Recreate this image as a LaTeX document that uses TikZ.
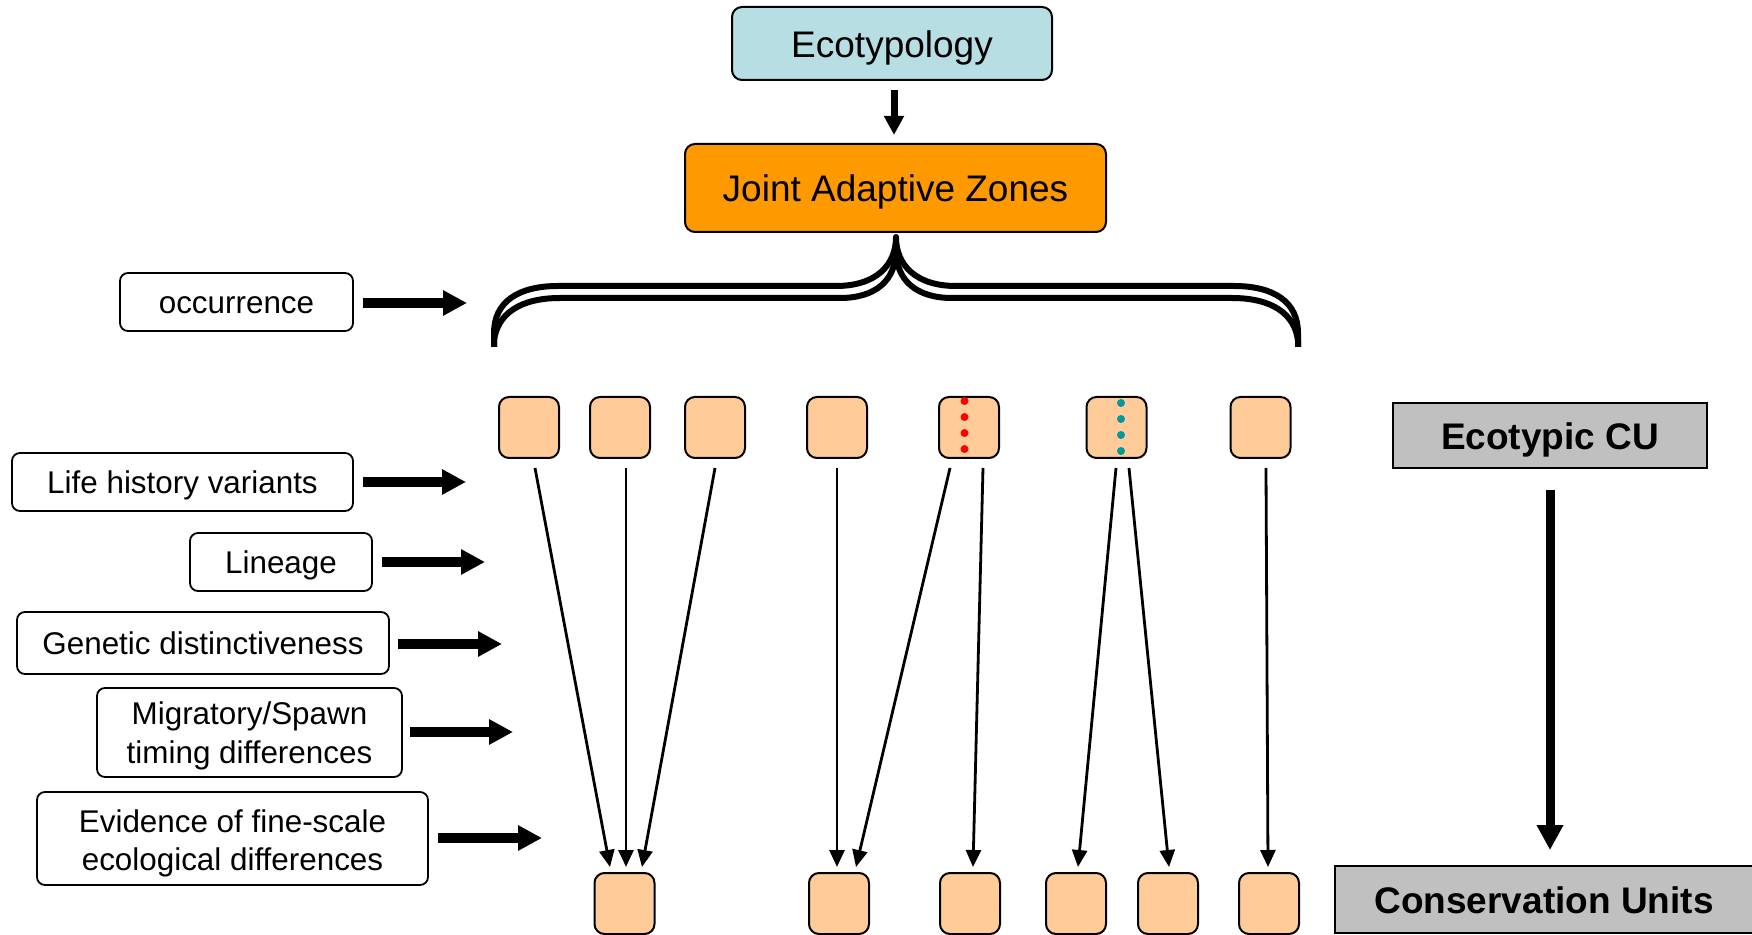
\documentclass[tikz,border=0pt]{standalone}
\usepackage{fontspec}
\setmainfont{Liberation Sans}
\usetikzlibrary{arrows.meta,calc}
\definecolor{ecoblue}{RGB}{183,222,226}
\definecolor{jazorange}{RGB}{255,153,0}
\definecolor{peach}{RGB}{255,204,153}
\definecolor{cugray}{RGB}{192,192,192}
\definecolor{dotteal}{RGB}{0,153,153}
\begin{document}
\begin{tikzpicture}[x=0.5pt,y=-0.5pt,
  bigfont/.style={font=\fontsize{18.5}{22}\selectfont, text height=17.6pt, text depth=3.7pt},
  topbox/.style={draw=black, line width=1pt, rounded corners=5pt, inner sep=0pt, bigfont},
  lbl/.style={draw=black, line width=0.9pt, rounded corners=4pt, fill=white, inner sep=0pt, align=center, font=\fontsize{15.7}{19.3}\selectfont},
  onel/.style={lbl, text height=14.9pt, text depth=3.1pt},
  graybox/.style={draw=black, line width=0.9pt, fill=cugray, inner sep=0pt, font=\fontsize{18.5}{22}\selectfont\bfseries, text height=17.6pt, text depth=3.7pt},
  cubox/.style={draw=black, line width=1pt, rounded corners=5pt, fill=peach, minimum width=30pt, minimum height=30.5pt, inner sep=0pt},
  conn/.style={line width=1.4pt, -{Triangle[width=7.5pt,length=8.5pt]}},
  fat/.style={line width=5pt, -{Triangle[width=12pt,length=12pt]}},
  brace/.style={line width=3pt, line join=round},
  reddot/.style={fill=red, draw=none},
  tealdot/.style={fill=dotteal, draw=none}
]
\useasboundingbox (0,0) rectangle (1752,935);

% top boxes
\node[topbox, fill=ecoblue, minimum width=160pt, minimum height=36.5pt] (eco) at (892,43.5) {Ecotypology};
\node[topbox, fill=jazorange, minimum width=210.5pt, minimum height=44pt] (jaz) at (895.5,188) {Joint Adaptive Zones};
\draw[line width=3.5pt, -{Triangle[width=9.5pt,length=9.5pt]}] ($(eco.south)+(2,9)$) -- ($(jaz.north)+(-1.5,-8)$);

% brace (two parallel curves)
\draw[brace] (494,347) -- (494,333) .. controls (494,302) and (518,286) .. (558,286) -- (836,286)
  .. controls (875,286) and (896,266) .. (896,237)
  .. controls (896,266) and (917,286) .. (956,286) -- (1234,286)
  .. controls (1274,286) and (1298,302) .. (1298,333) -- (1298,347);
\draw[brace] (494,347) -- (494,341) .. controls (497,314) and (520,298) .. (560,298) -- (840,298)
  .. controls (876,298) and (896,280) .. (896,250)
  .. controls (896,280) and (916,298) .. (952,298) -- (1232,298)
  .. controls (1272,298) and (1295,314) .. (1298,341) -- (1298,347);

% left labels
\node[onel, minimum width=116.5pt, minimum height=29pt] (occ) at (236.5,302) {occurrence};
\node[onel, minimum width=170.5pt, minimum height=29pt] (life) at (182.5,482) {Life history variants};
\node[onel, minimum width=91pt, minimum height=29pt] (lin) at (281,562) {Lineage};
\node[onel, minimum width=186pt, minimum height=31pt] (gen) at (203,643) {Genetic distinctiveness};
\node[lbl, minimum width=152.5pt, minimum height=44.5pt] (mig) at (249.5,732.5) {\rule{0pt}{14.5pt}Migratory/Spawn\\timing differences};
\node[lbl, minimum width=195.5pt, minimum height=46.5pt] (evi) at (232.5,838.5) {\rule{0pt}{16.3pt}Evidence of fine-scale\\ecological differences};

\coordinate (occT) at (467,303);
\coordinate (lifeT) at (466,482);
\coordinate (linT) at (485,562);
\coordinate (genT) at (502,644);
\coordinate (migT) at (513,732);
\coordinate (eviT) at (542,838);
\draw[fat] ($(occ.east)+(9,1)$) -- (occT);
\draw[fat] ($(life.east)+(9,0)$) -- (lifeT);
\draw[fat] ($(lin.east)+(9,0)$) -- (linT);
\draw[fat] ($(gen.east)+(8,1)$) -- (genT);
\draw[fat] ($(mig.east)+(7,-0.5)$) -- (migT);
\draw[fat] ($(evi.east)+(9,-0.5)$) -- (eviT);

% top row of units
\node[cubox] (t1) at (529,427.5) {};
\node[cubox] (t2) at (620,427.5) {};
\node[cubox] (t3) at (715,427.5) {};
\node[cubox] (t4) at (837,427.5) {};
\node[cubox] (t5) at (969,427.5) {};
\node[cubox] (t6) at (1116.5,427.5) {};
\node[cubox] (t7) at (1260.5,427.5) {};
\foreach \k in {5,21,37,53} {
  \fill[reddot] ($(t5.north)+(-4.5,\k)$) circle[radius=2pt];
}
\foreach \k in {7,23,39,55} {
  \fill[tealdot] ($(t6.north)+(4.5,\k)$) circle[radius=2pt];
}

% bottom row of units
\node[cubox] (b1) at (624.5,903.5) {};
\node[cubox] (b2) at (839,903.5) {};
\node[cubox] (b3) at (970,903.5) {};
\node[cubox] (b4) at (1076,903.5) {};
\node[cubox] (b5) at (1168,903.5) {};
\node[cubox] (b6) at (1269,903.5) {};

% connectors
\draw[conn] ($(t1.south)+(6,9)$) -- ($(b1.north)+(-14.5,-5)$);
\draw[conn] ($(t2.south)+(6,9)$) -- ($(b1.north)+(1.5,-5)$);
\draw[conn] ($(t3.south)+(0,9)$) -- ($(b1.north)+(17.5,-5)$);
\draw[conn] ($(t4.south)+(0,9)$) -- ($(b2.north)+(-2,-5)$);
\draw[conn] ($(t5.south)+(-19,9)$) -- ($(b2.north)+(17,-5)$);
\draw[conn] ($(t5.south)+(14,9)$) -- ($(b3.north)+(3,-5)$);
\draw[conn] ($(t6.south)+(-0.5,9)$) -- ($(b4.north)+(2,-5)$);
\draw[conn] ($(t6.south)+(12.5,9)$) -- ($(b5.north)+(1,-5)$);
\draw[conn] ($(t7.south)+(5.5,9)$) -- ($(b6.north)+(-1,-5)$);

% right side
\node[graybox, minimum width=157pt, minimum height=32.5pt] (ecu) at (1550,435.5) {Ecotypic CU};
\node[graybox, minimum width=209pt, minimum height=33.5pt] (cons) at (1544,899.5) {Conservation Units};
\draw[line width=4.5pt, -{Triangle[width=12.5pt,length=12.5pt]}] ($(ecu.south)+(0,21)$) -- ($(cons.north)+(6,-15)$);
\end{tikzpicture}
\end{document}
